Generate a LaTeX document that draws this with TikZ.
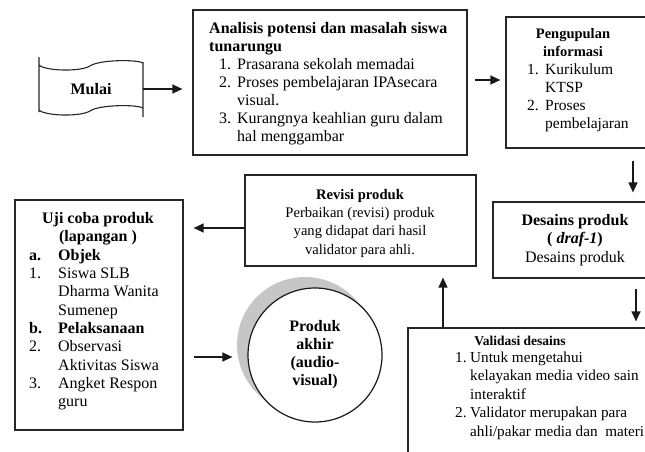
\documentclass[tikz,border=0pt]{standalone}
\usepackage{fontspec}
\setmainfont{Liberation Serif}
\usetikzlibrary{arrows.meta,calc}
\tikzset{
  box/.style={draw=black!85, line width=1.2pt, rectangle, inner sep=0pt},
  txt/.style={inner sep=0pt},
  arr/.style={draw=black!90, line width=1.3pt, -{Triangle[length=10pt,width=9pt]}},
}
\begin{document}
\begin{tikzpicture}[x=1pt,y=-1pt]
\useasboundingbox (0,0) rectangle (645,451);
\begin{scope}
\clip (0,0) rectangle (645,451);
% Mulai tape
\node[txt, font=\fontsize{16}{18}\selectfont\bfseries, minimum width=104pt, minimum height=50pt] (mulai) at (91,89) {Mulai};
\draw[line width=1.1pt, black!85]
  (39,57) -- (39,112)
  (143,62) -- (143,117)
  (39,65) .. controls (45,71) and (80,72) .. (90,66) .. controls (98,60) and (135,59) .. (143,63)
  (39,110) .. controls (45,116) and (80,117) .. (90,111) .. controls (98,105) and (135,104) .. (143,108);

% boxes
\node[box, minimum width=274pt, minimum height=145pt] (ana) at (330,82.5) {};
\node[box, minimum width=154pt, minimum height=131pt] (pen) at (583,82.5) {};
\node[box, minimum width=167pt, minimum height=76pt] (des) at (576.5,240) {};
\node[box, minimum width=252pt, minimum height=142pt] (val) at (534,399) {};
\node[box, minimum width=231pt, minimum height=91pt] (rev) at (360.5,220.5) {};
\node[box, minimum width=168pt, minimum height=230pt] (uji) at (99,315) {};
\fill[gray!45] (305,345) circle (68);
\node[circle, draw=black!90, fill=white, line width=1.2pt, minimum size=134pt, inner sep=0pt,
      align=center, font=\fontsize{16}{18}\selectfont\bfseries] (prod) at (315,355)
      {Produk\\akhir\\(audio-\\visual)};

% texts
\node[txt, anchor=north west, align=left, font=\fontsize{16}{18}\selectfont] (anatxt) at (209,21) {\rule{0pt}{12pt}\textbf{Analisis potensi dan masalah siswa}\\
\textbf{tunarungu}\\
\hspace*{10pt}\makebox[18pt][l]{1.}Prasarana sekolah memadai\\
\hspace*{10pt}\makebox[18pt][l]{2.}Proses pembelajaran IPAsecara\\
\hspace*{28pt}visual.\\
\hspace*{10pt}\makebox[18pt][l]{3.}Kurangnya keahlian guru dalam\\
\hspace*{28pt}hal menggambar};

\node[txt, anchor=north, align=center, font=\fontsize{14.5}{18}\selectfont\bfseries] (pentitle) at (573,27) {\rule{0pt}{11pt}Pengupulan\\informasi};
\node[txt, anchor=north west, align=left, font=\fontsize{15.5}{18}\selectfont] (penlist) at (527,63) {\rule{0pt}{11pt}\makebox[18pt][l]{1.}Kurikulum\\
\hspace*{18pt}KTSP\\
\makebox[18pt][l]{2.}Proses\\
\hspace*{18pt}pembelajaran};

\node[txt, anchor=north, align=center, font=\fontsize{16}{18.5}\selectfont] (destxt) at (575,213) {\rule{0pt}{12pt}\textbf{Desains produk}\\
\textbf{( \textit{draf-1})}\\
Desains produk};

\node[txt, anchor=north, align=center, font=\fontsize{13.5}{18}\selectfont\bfseries] (valtitle) at (520,334) {\rule{0pt}{11pt}Validasi desains};
\node[txt, anchor=north west, align=left, font=\fontsize{15.2}{18.5}\selectfont] (vallist) at (455,351) {\rule{0pt}{11pt}\makebox[15pt][l]{1.}Untuk mengetahui\\
\hspace*{15pt}kelayakan media video sain\\
\hspace*{15pt}interaktif\\
\makebox[15pt][l]{2.}Validator merupakan para\\
\hspace*{15pt}ahli/pakar media dan\ \ materi};

\node[txt, anchor=north, align=center, font=\fontsize{14.6}{18.3}\selectfont] (revtxt) at (360,188) {\rule{0pt}{11pt}\textbf{Revisi produk}\\
Perbaikan (revisi) produk\\
yang didapat dari hasil\\
validator para ahli.};

\node[txt, anchor=north, align=center, font=\fontsize{16}{18.3}\selectfont\bfseries] (ujititle) at (98,211) {\rule{0pt}{12pt}Uji coba produk\\(lapangan )};
\node[txt, anchor=north west, align=left, font=\fontsize{16}{18.3}\selectfont] (ujilist) at (29,248) {\rule{0pt}{12pt}\makebox[29pt][l]{\textbf{a.}}\textbf{Objek}\\
\makebox[29pt][l]{1.}Siswa SLB\\
\hspace*{29pt}Dharma Wanita\\
\hspace*{29pt}Sumenep\\
\makebox[29pt][l]{\textbf{b.}}\textbf{Pelaksanaan}\\
\makebox[29pt][l]{2.}Observasi\\
\hspace*{29pt}Aktivitas Siswa\\
\makebox[29pt][l]{3.}Angket Respon\\
\hspace*{29pt}guru};

% connectors
\draw[arr, shorten >=10pt] (mulai.east) -- (mulai.east -| ana.west);
\draw[arr, shorten <=7pt, shorten >=5pt] ([yshift=2.5pt]ana.east) -- ([yshift=2.5pt]pen.west);
\draw[arr, shorten <=12pt, shorten >=9pt] ([xshift=50pt]pen.south) -- ([xshift=56.5pt]des.north);
\draw[arr, shorten <=10pt, shorten >=6pt] ([xshift=59.5pt]des.south) -- ([xshift=102pt]val.north);
\draw[arr, shorten >=11pt] ([xshift=-91pt]val.north) -- ([xshift=82.5pt]rev.south);
\draw[arr, shorten >=10pt] ([yshift=-7.5pt]rev.west) -- ([yshift=-7.5pt]rev.west -| uji.east);
\draw[arr, shorten <=10pt, shorten >=15pt] ([yshift=-42pt]uji.east) -- ([yshift=-42pt]uji.east -| prod.west);
\end{scope}
\end{tikzpicture}
\end{document}
